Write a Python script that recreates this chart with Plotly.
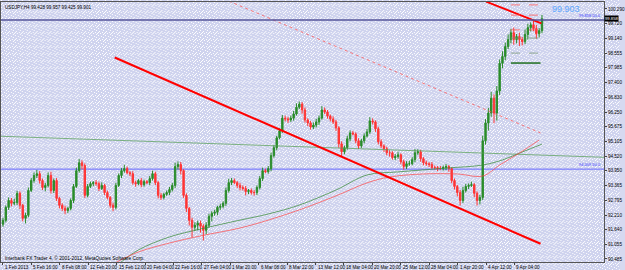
import base64
import plotly.graph_objects as go

# ---------------- data ----------------
first_open = 91.85
closes = [
    92.00, 92.51, 92.78, 92.67, 92.70, 93.06, 92.59, 92.08, 92.20, 93.17,
    93.56, 93.76, 93.83, 93.56, 93.29, 93.37, 93.76, 93.17, 93.56, 92.86,
    92.59, 92.47, 92.39, 92.47, 92.78, 93.33, 93.95, 94.26, 94.15, 92.98,
    93.33, 93.44, 93.48, 93.44, 93.25, 93.37, 93.09, 92.90, 92.59, 92.51,
    93.37, 93.76, 93.95, 94.03, 93.87, 93.83, 93.48, 93.44, 93.56, 93.40,
    93.52, 93.48, 93.64, 93.83, 93.48, 92.98, 92.90, 93.02, 93.09, 93.21,
    93.37, 94.11, 94.19, 93.95, 92.98, 92.47, 92.00, 91.73, 91.81, 91.89,
    91.77, 91.61, 91.81, 92.16, 92.28, 92.32, 92.51, 92.55, 92.67, 93.17,
    93.48, 93.56, 93.48, 93.37, 93.29, 93.25, 93.13, 93.17, 93.09, 93.09,
    93.29, 93.64, 93.95, 93.91, 94.03, 94.54, 94.85, 95.24, 95.51, 96.01,
    95.98, 95.94, 96.01, 96.17, 96.44, 96.56, 96.33, 95.94, 95.82, 95.66,
    95.74, 95.86, 96.01, 96.33, 96.25, 96.09, 95.98, 95.86, 95.63, 95.00,
    94.69, 94.85, 95.20, 95.43, 95.39, 95.12, 94.92, 95.12, 95.31, 95.47,
    95.90, 95.86, 95.59, 95.08, 94.92, 94.81, 94.65, 94.65, 94.46, 94.50,
    94.57, 94.30, 94.11, 94.22, 94.22, 94.38, 94.65, 94.69, 94.42, 94.26,
    94.22, 94.19, 94.07, 94.07, 94.03, 94.03, 94.07, 94.11, 94.03, 93.56,
    93.33, 93.09, 92.78, 93.17, 93.33, 93.37, 93.40, 93.06, 92.78, 92.90,
    95.12, 95.82, 96.21, 96.79, 96.21, 97.07, 98.16, 98.43, 98.82, 99.09,
    99.36, 99.09, 99.21, 99.09, 99.01, 99.29, 99.56, 99.67, 99.52, 99.32,
    99.44, 99.91,
]
wick_hi = [
    .10, .08, .12, .10, .15, .10, .08, .06, .10, .12,
    .10, .12, .15, .10, .08, .10, .12, .15, .08, .10,
    .06, .08, .10, .06, .08, .10, .12, .15, .10, .08,
    .10, .08, .06, .10, .08, .12, .06, .08, .05, .10,
    .10, .08, .10, .15, .08, .06, .10, .08, .06, .10,
    .08, .06, .10, .12, .08, .06, .10, .06, .08, .10,
    .10, .15, .12, .10, .06, .08, .06, .10, .12, .10,
    .10, .08, .12, .10, .08, .10, .06, .10, .08, .12,
    .15, .10, .08, .06, .10, .08, .10, .06, .08, .10,
    .08, .10, .12, .08, .10, .12, .10, .08, .10, .12,
    .10, .08, .10, .12, .15, .10, .08, .10, .06, .08,
    .10, .12, .10, .15, .10, .08, .06, .10, .08, .06,
    .10, .08, .12, .10, .08, .06, .10, .08, .10, .12,
    .15, .10, .06, .08, .10, .06, .08, .10, .06, .10,
    .12, .06, .08, .10, .12, .10, .15, .10, .08, .06,
    .08, .06, .10, .08, .06, .10, .08, .10, .06, .05,
    .08, .06, .10, .15, .10, .08, .12, .06, .08, .10,
    .20, .15, .20, .25, .15, .20, .15, .20, .15, .20,
    .15, .20, .10, .15, .10, .20, .15, .10, .20, .15,
    .10, .15,
]
wick_lo = [
    .10, .08, .10, .12, .08, .10, .15, .12, .20, .08,
    .06, .08, .10, .12, .10, .15, .08, .12, .10, .10,
    .12, .10, .15, .10, .08, .10, .06, .08, .15, .10,
    .08, .06, .10, .08, .10, .06, .10, .08, .10, .15,
    .08, .06, .10, .08, .06, .10, .08, .12, .06, .10,
    .08, .06, .10, .08, .10, .12, .10, .08, .06, .10,
    .08, .10, .12, .15, .10, .15, .20, .40, .15, .20,
    .25, .40, .15, .10, .20, .10, .12, .10, .08, .10,
    .08, .10, .06, .10, .12, .08, .15, .10, .08, .12,
    .10, .08, .10, .06, .08, .10, .08, .10, .06, .08,
    .10, .12, .08, .10, .06, .08, .15, .10, .12, .10,
    .08, .10, .12, .06, .08, .10, .10, .08, .12, .15,
    .20, .10, .08, .10, .06, .10, .12, .08, .10, .06,
    .08, .10, .12, .10, .08, .12, .10, .15, .08, .10,
    .08, .10, .12, .10, .08, .06, .10, .08, .12, .10,
    .08, .10, .06, .08, .10, .06, .08, .10, .12, .10,
    .12, .15, .20, .10, .08, .10, .06, .15, .20, .15,
    .10, .15, .30, .15, .40, .30, .15, .20, .15, .10,
    .15, .20, .15, .25, .15, .10, .20, .15, .10, .20,
    .15, .10,
]

# moving averages (bar index, price)
ma_green_x = [41, 48, 59, 70, 84, 94, 105, 118, 129, 140, 157, 170, 177, 184, 191]
ma_green_y = [90.29, 90.84, 91.35, 91.66, 92.01, 92.25, 92.60, 93.19, 93.78, 93.90, 94.05, 94.17, 94.37, 94.68, 94.99]
ma_red_x = [39, 48, 59, 70, 84, 94, 105, 118, 129, 137, 149, 161, 170, 176, 183, 190]
ma_red_y = [90.29, 90.76, 91.11, 91.39, 91.70, 92.01, 92.41, 92.96, 93.47, 93.70, 93.82, 93.82, 93.74, 94.17, 94.64, 95.15]

# trend lines (bar index, price)
long_green_x = [-1.0, 214.0]
long_green_y = [95.30, 94.47]
trend_main_x = [39.6, 190.5]
trend_main_y = [98.387, 91.081]
trend_top_x = [171.2, 190.8]
trend_top_y = [100.576, 99.728]
trend_dot_x = [80.0, 190.5]
trend_dot_y = [100.60, 95.43]

# pivot levels near the last bars
pivot_x = [180, 190.5]
pivot_red = [100.45, 100.05, 99.47]
pivot_grey = [99.15, 98.56]
pivot_dark = [98.17]

# horizontal levels
hline_dark = 99.858
hline_blue = 94.009
hline_dark_label = "99.858 50.0"
hline_blue_label = "94.009 50.0"
big_price = "99.903"
price_box = "99.858"
title_text = "USDJPY,H4 99.428 99.957 99.425 99.901"
credit_text = "Interbank FX Trader 4, \u00a9 2001-2012, MetaQuotes Software Corp."

ytick_vals = [90.485, 91.055, 91.640, 92.210, 92.795, 93.365, 93.950, 94.520, 95.105,
              95.675, 96.250, 96.830, 97.400, 97.985, 98.555, 99.140, 99.720, 100.290]
xtick_labels = ["1 Feb 2013", "5 Feb 16:00", "8 Feb 08:00", "12 Feb 20:00", "15 Feb 12:00",
                "20 Feb 04:00", "22 Feb 16:00", "27 Feb 04:00", "1 Mar 20:00", "6 Mar 08:00",
                "8 Mar 22:00", "13 Mar 12:00", "18 Mar 04:00", "20 Mar 20:00", "25 Mar 12:00",
                "28 Mar 04:00", "1 Apr 20:00", "4 Apr 12:00", "9 Apr 04:00"]
bars_per_label = 10.07

# ---------------- build ----------------
N = len(closes)
idx = list(range(N))
opens = [first_open] + closes[:-1]
highs = [max(o, c) + w for o, c, w in zip(opens, closes, wick_hi)]
lows = [min(o, c) - w for o, c, w in zip(opens, closes, wick_lo)]

XR = [-0.70, 212.98]
YR = [90.367, 100.564]
W, H = 625, 270
ML, MR, MT, MB = 0, 16, 2, 8
PW, PH = W - ML - MR, H - MT - MB

FONT = "Liberation Sans"

fig = go.Figure()

# background dotted texture (svg data uri)
dots = [(0, 0), (3, 1), (5, 2), (1, 3), (4, 4), (6, 5), (2, 5), (5, 6), (0, 4)]
rects = "".join(f'<rect x="{a}" y="{b}" width="1" height="1" fill="#ffffff"/>' for a, b in dots)
svg = (f'<svg xmlns="http://www.w3.org/2000/svg" width="{W}" height="{H}">'
       f'<defs><pattern id="p" width="7" height="7" patternUnits="userSpaceOnUse">'
       f'<rect width="7" height="7" fill="#cfd3ee"/>{rects}</pattern></defs>'
       f'<rect width="{W}" height="{H}" fill="url(#p)"/></svg>')
src = "data:image/svg+xml;base64," + base64.b64encode(svg.encode()).decode()

# long green trend line
fig.add_trace(go.Scatter(x=long_green_x, y=long_green_y, mode="lines",
                         line=dict(color="rgba(90,160,90,0.75)", width=1), hoverinfo="skip"))
# moving averages
fig.add_trace(go.Scatter(x=ma_green_x, y=ma_green_y, mode="lines", line_shape="spline",
                         line=dict(color="rgba(60,140,60,0.75)", width=1), hoverinfo="skip"))
fig.add_trace(go.Scatter(x=ma_red_x, y=ma_red_y, mode="lines", line_shape="spline",
                         line=dict(color="rgba(255,70,70,0.7)", width=1), hoverinfo="skip"))

# candles
fig.add_trace(go.Candlestick(
    x=idx, open=opens, high=highs, low=lows, close=closes,
    increasing=dict(line=dict(color="#2a8c2a", width=1), fillcolor="#2a8c2a"),
    decreasing=dict(line=dict(color="#ff3535", width=1), fillcolor="#ff3535"),
    whiskerwidth=0, hoverinfo="skip"))

# trend lines
fig.add_trace(go.Scatter(x=trend_main_x, y=trend_main_y, mode="lines",
                         line=dict(color="#ff0000", width=2), hoverinfo="skip"))
fig.add_trace(go.Scatter(x=trend_top_x, y=trend_top_y, mode="lines",
                         line=dict(color="#ff0000", width=2), hoverinfo="skip"))
fig.add_trace(go.Scatter(x=trend_dot_x, y=trend_dot_y, mode="lines",
                         line=dict(color="rgba(255,90,90,0.8)", width=1, dash="dot"), hoverinfo="skip"))

# pivots
for p in pivot_red:
    fig.add_trace(go.Scatter(x=pivot_x, y=[p, p], mode="lines",
                             line=dict(color="rgba(255,90,90,0.8)", width=1, dash="dash"), hoverinfo="skip"))
for p in pivot_grey:
    fig.add_trace(go.Scatter(x=pivot_x, y=[p, p], mode="lines",
                             line=dict(color="rgba(120,150,120,0.8)", width=1, dash="dash"), hoverinfo="skip"))
for p in pivot_dark:
    fig.add_trace(go.Scatter(x=pivot_x, y=[p, p], mode="lines",
                             line=dict(color="#1f6f1f", width=1.5), hoverinfo="skip"))

shapes = [
    dict(type="line", xref="paper", yref="y", x0=0, x1=1, y0=hline_dark, y1=hline_dark,
         line=dict(color="#55559a", width=1.3), layer="above"),
    dict(type="line", xref="paper", yref="y", x0=0, x1=1, y0=hline_blue, y1=hline_blue,
         line=dict(color="#6a6aff", width=1), layer="below"),
]

ann = []
small = dict(family=FONT, size=4.6, color="#000000")
for k, lab in enumerate(xtick_labels):
    ann.append(dict(x=k * bars_per_label, y=0, xref="x", yref="paper", text=lab,
                    showarrow=False, xanchor="left", yanchor="top", xshift=0, yshift=-1,
                    font=small))
ann += [
    dict(x=0.004, y=1, xref="paper", yref="paper", text=title_text, showarrow=False,
         xanchor="left", yanchor="top", yshift=-1, font=small),
    dict(x=0.004, y=0.016, xref="paper", yref="paper", text=credit_text, showarrow=False,
         xanchor="left", yanchor="middle", font=dict(family=FONT, size=4.8, color="#000000")),
    dict(x=571 / PW, y=1 - 6.5 / PH, xref="paper", yref="paper", text=big_price,
         showarrow=False, xanchor="center", yanchor="middle",
         font=dict(family=FONT, size=9, color="#5ea8ff")),
    dict(x=0.998, y=hline_dark, xref="paper", yref="y", text=hline_dark_label, showarrow=False,
         xanchor="right", yanchor="bottom", yshift=0,
         font=dict(family=FONT, size=4, color="#3a3aff")),
    dict(x=0.998, y=hline_blue, xref="paper", yref="y", text=hline_blue_label, showarrow=False,
         xanchor="right", yanchor="bottom", yshift=0,
         font=dict(family=FONT, size=4, color="#3a3aff")),
    dict(x=1, y=hline_dark, xref="paper", yref="y", text=price_box, showarrow=False,
         xanchor="left", yanchor="middle", bgcolor="#000000", borderpad=0, yshift=1.5,
         font=dict(family=FONT, size=4.2, color="#ffffff")),
]

fig.update_layout(
    width=W, height=H,
    margin=dict(l=ML, r=MR, t=MT, b=MB, pad=0),
    paper_bgcolor="#d6d9f0", plot_bgcolor="rgba(0,0,0,0)",
    showlegend=False,
    images=[dict(source=src, xref="paper", yref="paper", x=-ML / PW, y=1 + MT / PH,
                 sizex=W / PW, sizey=H / PH, xanchor="left", yanchor="top",
                 sizing="stretch", layer="below")],
    shapes=shapes, annotations=ann,
    xaxis=dict(range=XR, showgrid=False, zeroline=False, rangeslider=dict(visible=False),
               tickvals=[k * bars_per_label for k in range(len(xtick_labels))],
               showticklabels=False, ticks="outside", ticklen=2, tickcolor="#444",
               showline=True, linecolor="#555", linewidth=1, mirror=True, fixedrange=True),
    yaxis=dict(range=YR, side="right", showgrid=False, zeroline=False,
               tickvals=ytick_vals, ticktext=[f"{v:.3f}" for v in ytick_vals],
               ticks="outside", ticklen=2, tickcolor="#444",
               tickfont=dict(family=FONT, size=4.6, color="#000000"),
               showline=True, linecolor="#555", linewidth=1, mirror=True, fixedrange=True),
)

fig.write_html("out.html")
